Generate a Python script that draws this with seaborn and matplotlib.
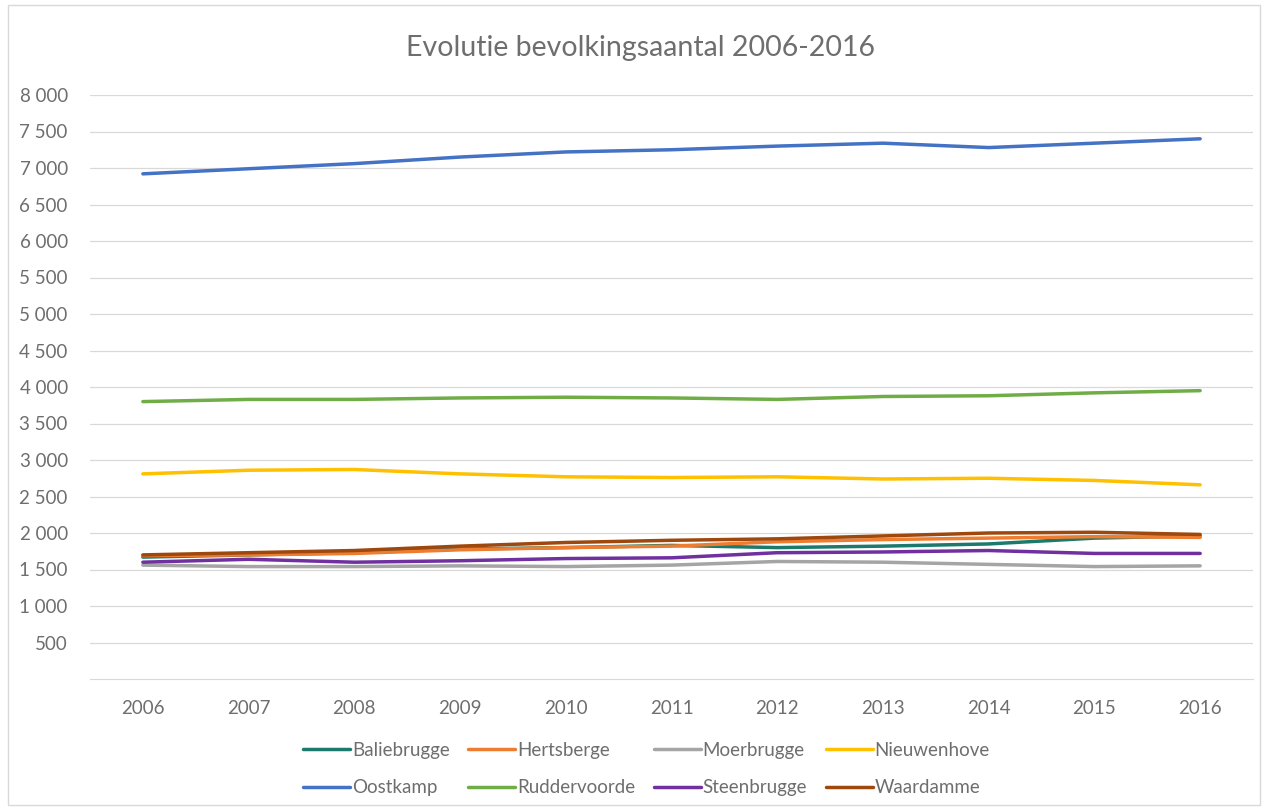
import matplotlib
matplotlib.use("Agg")
import matplotlib.pyplot as plt
import matplotlib.patches as mpatches
import seaborn as sns
import pandas as pd
from matplotlib.ticker import FuncFormatter

years = [2006, 2007, 2008, 2009, 2010, 2011, 2012, 2013, 2014, 2015, 2016]

baliebrugge = [1670, 1700, 1730, 1780, 1800, 1830, 1800, 1820, 1850, 1930, 1960]
hertsberge = [1690, 1700, 1720, 1770, 1800, 1820, 1880, 1910, 1930, 1950, 1940]
moerbrugge = [1560, 1540, 1540, 1550, 1540, 1560, 1610, 1600, 1570, 1540, 1550]
nieuwenhove = [2810, 2860, 2870, 2810, 2770, 2760, 2770, 2740, 2750, 2720, 2660]
oostkamp = [6920, 6990, 7060, 7150, 7220, 7250, 7300, 7340, 7280, 7340, 7400]
ruddervoorde = [3800, 3830, 3830, 3850, 3860, 3850, 3830, 3870, 3880, 3920, 3950]
steenbrugge = [1600, 1640, 1600, 1620, 1650, 1660, 1730, 1740, 1760, 1720, 1720]
waardamme = [1700, 1730, 1760, 1820, 1870, 1900, 1920, 1960, 2000, 2010, 1980]

series = {
    "Baliebrugge": baliebrugge,
    "Hertsberge": hertsberge,
    "Moerbrugge": moerbrugge,
    "Nieuwenhove": nieuwenhove,
    "Oostkamp": oostkamp,
    "Ruddervoorde": ruddervoorde,
    "Steenbrugge": steenbrugge,
    "Waardamme": waardamme,
}
colors = ["#1b7a6c", "#ed7d31", "#a5a5a5", "#ffc000",
          "#4472c4", "#70ad47", "#7030a0", "#9e480e"]
text_color = "#6e6e6e"

rows = []
for name, vals in series.items():
    for i, v in enumerate(vals):
        rows.append({"idx": i, "value": v, "plaats": name})
df = pd.DataFrame(rows)

sns.set_style("white")
plt.rcParams["font.family"] = ["Lato", "DejaVu Sans"]

fig = plt.figure(figsize=(12.66, 8.09), dpi=100)
ax = fig.add_axes([90 / 1266, 1 - 679 / 809, 1163 / 1266, 584 / 809])

sns.lineplot(data=df, x="idx", y="value", hue="plaats", palette=colors,
             linewidth=2.5, ax=ax, legend=True)

ax.set_xlim(-0.5, 10.5)
ax.set_ylim(0, 8000)
ax.set_yticks(range(500, 8001, 500))
ax.yaxis.set_major_formatter(FuncFormatter(lambda v, p: f"{int(v):,}".replace(",", " ")))
ax.set_xticks(range(len(years)))
ax.set_xticklabels([str(y) for y in years])
ax.grid(axis="y", color="#d9d9d9", linewidth=0.9)
ax.set_axisbelow(True)
for s in ["top", "right", "left"]:
    ax.spines[s].set_visible(False)
ax.spines["bottom"].set_color("#d9d9d9")
ax.tick_params(axis="both", length=0, labelsize=13.5, colors=text_color)
ax.tick_params(axis="x", pad=15)
ax.tick_params(axis="y", pad=16)
ax.set_xlabel("")
ax.set_ylabel("")

fig.text(640 / 1266, 1 - 48 / 809, "Evolutie bevolkingsaantal 2006-2016",
         ha="center", va="center", fontsize=20.5, color=text_color)

# legend filled row by row, like the original
handles, labels = ax.get_legend_handles_labels()
ax.get_legend().remove()
order = [0, 4, 1, 5, 2, 6, 3, 7]
fig.legend([handles[i] for i in order], [labels[i] for i in order],
           ncol=4, loc="center left", bbox_to_anchor=(303 / 1266, 1 - 769 / 809),
           frameon=False, fontsize=13.5, labelcolor=text_color, borderpad=0,
           borderaxespad=0, handlelength=2.5, handletextpad=0.1,
           columnspacing=1.0, labelspacing=1.1)

fig.patches.append(mpatches.Rectangle((8 / 1266, 4 / 809), 1252 / 1266, 800 / 809,
                                      transform=fig.transFigure, fill=False,
                                      edgecolor="#d9d9d9", linewidth=1))

fig.savefig("out.png", dpi=100)
